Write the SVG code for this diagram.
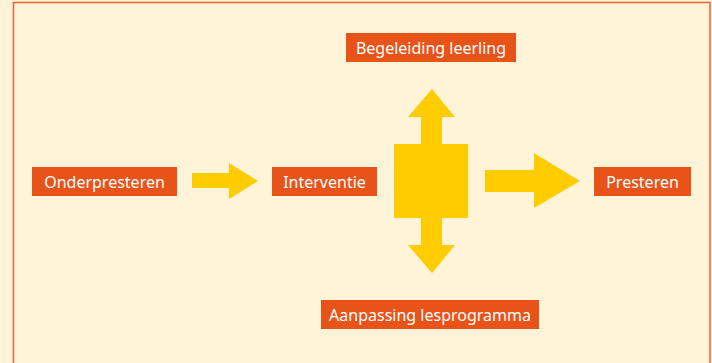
<svg xmlns="http://www.w3.org/2000/svg" width="712" height="363" viewBox="0 0 712 363">
<style>
.box{fill:#E8531A}
.lbl{fill:#FFFFFF;font-family:"Noto Sans","Open Sans",sans-serif;font-size:16px;text-anchor:middle}
.arr{fill:#FFCC00}
</style>
<rect x="0" y="0" width="712" height="363" fill="#FFF3D8"/>
<path d="M13.5 363 V2.5 H710 V363" fill="none" stroke="#F0642A" stroke-width="1.5"/>
<g id="connectors">
<polygon class="arr" points="192,173 229,173 229,163 258,181 229,199 229,188 192,188"/>
<polygon class="arr" points="394,144 421,144 421,117 408,117 432,89 455,117 442,117 442,144 468,144 468,218 442,218 442,245 455,245 432,273 408,245 421,245 421,218 394,218"/>
<polygon class="arr" points="485,170 534,170 534,153 580,181 534,208 534,192 485,192"/>
</g>
<g id="onderpresteren">
<rect class="box" x="32" y="167" width="145" height="29"/>
<text class="lbl" x="104.5" y="187.5">Onderpresteren</text>
</g>
<g id="interventie">
<rect class="box" x="272" y="167" width="105" height="29"/>
<text class="lbl" x="324.5" y="187.5">Interventie</text>
</g>
<g id="begeleiding">
<rect class="box" x="346" y="33" width="170" height="29"/>
<text class="lbl" x="431" y="53.5">Begeleiding leerling</text>
</g>
<g id="aanpassing">
<rect class="box" x="321" y="300" width="218" height="29"/>
<text class="lbl" x="430" y="320.5">Aanpassing lesprogramma</text>
</g>
<g id="presteren">
<rect class="box" x="594" y="167" width="97" height="29"/>
<text class="lbl" x="642.5" y="187.5">Presteren</text>
</g>
</svg>
